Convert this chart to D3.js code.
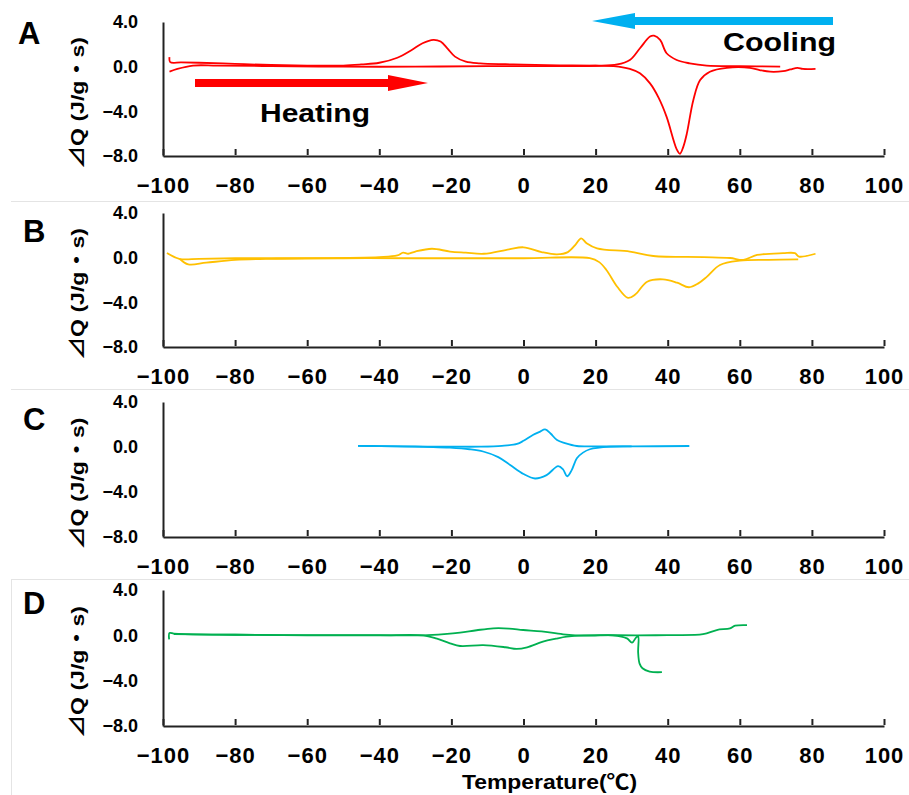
<!DOCTYPE html>
<html>
<head>
<meta charset="utf-8">
<script src="https://cdn.jsdelivr.net/npm/d3@7"></script>
<style>
  body { margin: 0; background: #fff; }
  svg text { font-family: "Liberation Sans", Arial, "Noto Sans CJK JP", sans-serif; font-weight: bold; fill: #000; }
</style>
</head>
<body>
<div id="chart"></div>
<script>
// tick values
const tempTicks = [-100, -80, -60, -40, -20, 0, 20, 40, 60, 80, 100];
const dqTicks = [4, 0, -4, -8];
const panelLetters = ["A", "B", "C", "D"];

// DSC traces, [temperature, dQ]
const heatA = [[-98.2,0.85],[-98,0.4],[-95,0.38],[-90,0.35],[-80,0.25],[-70,0.15],[-60,0.1],[-50,0.1],[-45,0.2],[-40,0.35],[-35,0.8],[-31,1.5],[-28,2.1],[-25,2.4],[-23,2.25],[-21,1.6],[-19,0.9],[-16,0.45],[-12,0.3],[-5,0.22],[0,0.18],[10,0.12],[20,0.08],[25,0.05],[29.5,-0.2],[32.3,-0.6],[35.1,-1.5],[37.5,-2.8],[39.7,-4.5],[42.5,-7.4],[43.4,-7.8],[44.3,-7.2],[45.3,-6.0],[47.1,-3.0],[49,-1.2],[51.7,-0.45],[56.4,-0.1],[62.8,-0.1],[65.5,-0.3],[68.4,-0.45],[72,-0.4],[74,-0.25],[76,-0.1],[77.5,-0.2],[81,-0.2]];
const coolA = [[71.2,0.0],[60,0.05],[50.8,0.1],[46.1,0.3],[42.5,0.6],[39.7,1.2],[37.9,2.4],[36.2,2.77],[35.1,2.7],[32.3,1.65],[29.5,0.6],[26,0.2],[20,0.08],[0,0.05],[-10,0.05],[-30,0.0],[-50,0.0],[-70,0.05],[-85,0.1],[-91.7,0.1],[-96,-0.2],[-98.2,-0.45]];

const heatB = [[-95.3,-0.12],[-93,-0.6],[-88,-0.45],[-80,-0.2],[-70,-0.1],[-50,-0.05],[-30,-0.05],[0,-0.05],[18.4,-0.05],[21,-0.4],[23,-1.1],[26,-2.6],[29,-3.6],[31,-3.3],[34.3,-2.15],[38.7,-1.94],[42.6,-2.24],[45.9,-2.65],[48.5,-2.3],[50.9,-1.7],[54.5,-0.66],[60,-0.27],[68,-0.2],[76.2,-0.15]];
const coolB = [[81,0.35],[76.4,0.1],[75.3,0.4],[72,0.4],[64.8,0.24],[61,-0.2],[57.3,-0.03],[50,0.05],[36,0.15],[29.5,0.55],[20.4,0.84],[17.5,1.3],[16,1.73],[14.5,1.2],[12.3,0.5],[9.3,0.3],[5,0.5],[0,0.93],[-4,0.75],[-11,0.35],[-16,0.45],[-20.4,0.55],[-25.4,0.8],[-30,0.55],[-32,0.35],[-33.4,0.45],[-35,0.2],[-40,0.05],[-60,-0.05],[-80,-0.05],[-90,-0.1],[-95.3,-0.12],[-98.9,0.42]];

const heatC = [[-45.9,0.1],[-35,0.05],[-25,0.0],[-20.4,-0.06],[-15,-0.2],[-11.2,-0.4],[-7,-0.9],[-3.7,-1.6],[0,-2.4],[3.2,-2.8],[6.4,-2.5],[9.6,-1.7],[11,-2.0],[12.1,-2.6],[13.3,-2.1],[14.8,-1.0],[16.5,-0.5],[18.4,-0.2],[24,0.03],[30,0.05]];
const coolC = [[46,0.09],[30,0.05],[20,0.05],[14.8,0.09],[11.5,0.35],[9.3,0.62],[7.5,1.2],[6,1.56],[4.5,1.35],[2.6,1.07],[0,0.55],[-1.8,0.27],[-6,0.1],[-12,0.03],[-20,0.03],[-30,0.05],[-40,0.08],[-45.9,0.1]];

const heatD = [[-98.3,-0.35],[-98.2,0.2],[-97,0.15],[-94,0.1],[-80,0.05],[-60,0.0],[-40,0.0],[-27.8,0.0],[-24,-0.3],[-20.4,-0.7],[-17.6,-0.94],[-11.2,-0.86],[-5,-1.05],[-1.9,-1.2],[1,-1.06],[5.4,-0.56],[9,-0.3],[12,-0.12],[16.5,0.0],[31.5,0.0],[40,0.02],[49.8,0.1],[53.6,0.47],[57.3,0.62],[58.7,0.85],[62,0.9]];
const coolD = [[38.4,-3.25],[35,-3.2],[33,-2.9],[32.2,-2.5],[31.8,-1.5],[31.8,-0.1],[31.2,-0.2],[30.1,-0.65],[28.7,-0.27],[24.8,0.0],[18.4,-0.03],[11,0.09],[5,0.35],[-0.1,0.47],[-4,0.6],[-8.4,0.62],[-13,0.45],[-17.6,0.23],[-22,0.1],[-27.8,0.0],[-40,0.02],[-60,0.02],[-80,0.05],[-97,0.1]];

const width = 909, height = 795;
const svg = d3.select("#chart").append("svg")
  .attr("width", width)
  .attr("height", height);

// frame lines between panels
svg.append("g").selectAll("line")
  .data([201, 389, 579])
  .enter().append("line")
  .attr("x1", 11).attr("x2", width)
  .attr("y1", d => d + 0.5).attr("y2", d => d + 0.5)
  .attr("stroke", "#e4e4e4").attr("stroke-width", 1);
svg.append("line")
  .attr("x1", 11.5).attr("x2", 11.5).attr("y1", 579).attr("y2", height)
  .attr("stroke", "#e4e4e4");

const panels = [
  { top: 22, bottom: 156, color: "#FF0000", traces: [heatA, coolA], letterY: 44, letterX: 18 },
  { top: 213, bottom: 347, color: "#FFC000", traces: [heatB, coolB], letterY: 242, letterX: 23 },
  { top: 402, bottom: 537, color: "#00B0F0", traces: [heatC, coolC], letterY: 430, letterX: 23 },
  { top: 590, bottom: 726, color: "#00B050", traces: [heatD, coolD], letterY: 614, letterX: 23 }
];

const x = d3.scaleLinear().domain([-100, 100]).range([163, 884]);

panels.forEach((p, i) => {
  const y = d3.scaleLinear().domain([-8, 4]).range([p.bottom, p.top]);
  const g = svg.append("g");

  // x axis, ticks pointing up
  const xAxis = g.append("g")
    .attr("transform", `translate(0,${p.bottom})`)
    .call(d3.axisBottom(x).tickValues(tempTicks).tickSizeInner(-7).tickSizeOuter(0).tickPadding(25)
      .tickFormat(d3.format("d")));
  xAxis.select(".domain").attr("stroke", "#222").attr("stroke-width", 2);
  xAxis.selectAll(".tick line").attr("stroke", "#222").attr("stroke-width", 2)
    .attr("y1", -1);
  xAxis.selectAll(".tick text")
    .style("font-size", "22px").style("letter-spacing", "1px")
    .attr("dy", "0.55em");

  // y axis
  const yAxis = g.append("g")
    .attr("transform", `translate(${x(-100)},0)`)
    .call(d3.axisLeft(y).tickValues(dqTicks).tickSize(0).tickPadding(25)
      .tickFormat(d3.format(".1f")));
  yAxis.select(".domain").attr("stroke", "#222").attr("stroke-width", 2);
  yAxis.selectAll(".tick text").style("font-size", "18px");

  // y label
  const mid = (p.top + p.bottom) / 2 + 14;
  g.append("text")
    .attr("transform", `translate(84,${mid}) rotate(-90)`)
    .attr("text-anchor", "middle")
    .attr("textLength", 132)
    .attr("lengthAdjust", "spacingAndGlyphs")
    .style("font-size", "19px")
    .text("⊿Q (J/g・s)");

  // panel letter
  g.append("text")
    .attr("x", p.letterX).attr("y", p.letterY)
    .style("font-size", "31px")
    .text(panelLetters[i]);

  const line = d3.line()
    .x(d => x(d[0]))
    .y(d => y(d[1]))
    .curve(d3.curveCatmullRom.alpha(0.5));

  p.traces.forEach(t => {
    g.append("path")
      .datum(t)
      .attr("fill", "none")
      .attr("stroke", p.color)
      .attr("stroke-width", 1.8)
      .attr("stroke-linejoin", "round")
      .attr("d", line);
  });
});

// heating / cooling arrows
svg.append("path")
  .attr("d", "M195,79 H388 V75 L428,83 L388,91 V87 H195 Z")
  .attr("fill", "#FF0000");
svg.append("text")
  .attr("x", 260).attr("y", 122)
  .attr("textLength", 110).attr("lengthAdjust", "spacingAndGlyphs")
  .style("font-size", "26px")
  .text("Heating");

svg.append("path")
  .attr("d", "M833,17 H635 V13 L592,21 L635,29 V25 H833 Z")
  .attr("fill", "#00B0F0");
svg.append("text")
  .attr("x", 723).attr("y", 51)
  .attr("textLength", 113).attr("lengthAdjust", "spacingAndGlyphs")
  .style("font-size", "26px")
  .text("Cooling");

// x axis title
svg.append("text")
  .attr("x", 462).attr("y", 789)
  .attr("textLength", 175).attr("lengthAdjust", "spacingAndGlyphs")
  .style("font-size", "21px")
  .text("Temperature(℃)");
</script>
</body>
</html>
